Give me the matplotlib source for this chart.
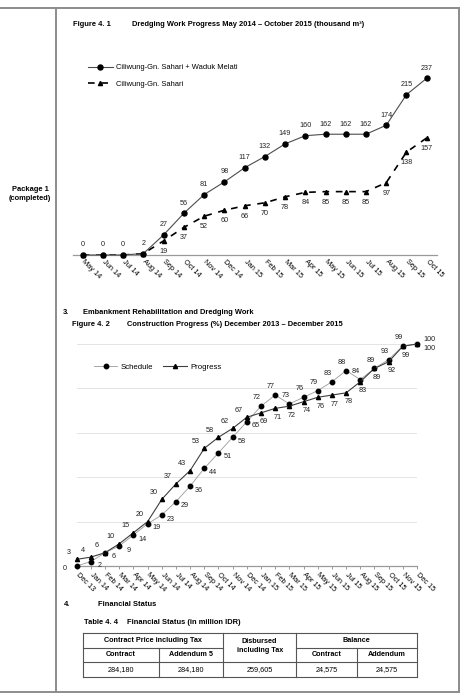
import matplotlib.pyplot as plt
from matplotlib.lines import Line2D

plt.rcParams['font.family'] = ['Liberation Sans', 'DejaVu Sans']

# Figure 4.1 data (thousand m3)
months_41 = ['May 14', 'Jun 14', 'Jul 14', 'Aug 14', 'Sep 14', 'Oct 14', 'Nov 14', 'Dec 14',
             'Jan 15', 'Feb 15', 'Mar 15', 'Apr 15', 'May 15', 'Jun 15', 'Jul 15', 'Aug 15',
             'Sep 15', 'Oct 15']
total_41 = [0, 0, 0, 2, 27, 56, 81, 98, 117, 132, 149, 160, 162, 162, 162, 174, 215, 237]
sahari_41 = [0, 0, 0, 2, 19, 37, 52, 60, 66, 70, 78, 84, 85, 85, 85, 97, 138, 157]

# Figure 4.2 data (%)
months_42 = ['Dec 13', 'Jan 14', 'Feb 14', 'Mar 14', 'Apr 14', 'May 14', 'Jun 14', 'Jul 14',
             'Aug 14', 'Sep 14', 'Oct 14', 'Nov 14', 'Dec 14', 'Jan 15', 'Feb 15', 'Mar 15',
             'Apr 15', 'May 15', 'Jun 15', 'Jul 15', 'Aug 15', 'Sep 15', 'Oct 15', 'Nov 15',
             'Dec 15']
schedule_42 = [0, 2, 6, 9, 14, 19, 23, 29, 36, 44, 51, 58, 65, 72, 77, 73, 76, 79, 83, 88,
               84, 89, 93, 99, 100]
progress_42 = [3, 4, 6, 10, 15, 20, 30, 37, 43, 53, 58, 62, 67, 69, 71, 72, 74, 76, 77, 78,
               83, 89, 92, 99, 100]

# Table 4.4
fin_top = ['Contract Price including Tax', 'Disbursed\nincluding Tax', 'Balance']
fin_sub = ['Contract', 'Addendum 5', None, 'Contract', 'Addendum']
fin_values = ['284,180', '284,180', '259,605', '24,575', '24,575']

W, H = 462, 700
fig = plt.figure(figsize=(W / 100, H / 100), dpi=100)

FS_HEAD = 5.4   # headings
FS_TAB = 5.2    # table
FS_LAB = 5.2    # data labels
FS_TICK = 5.3


def fx(px):
    return px / W


def fy(py):
    return 1 - py / H


def fline(x0, y0, x1, y1, color='#8c8c8c', lw=1.4):
    fig.add_artist(Line2D([fx(x0), fx(x1)], [fy(y0), fy(y1)], color=color, lw=lw))


def ftext(x, y, s, **kw):
    kw.setdefault('fontsize', FS_HEAD)
    kw.setdefault('va', 'center')
    fig.text(fx(x), fy(y), s, **kw)


# page frame
fline(0, 7.5, 459, 7.5)
fline(0, 691.7, 459, 691.7)
fline(459, 7.5, 459, 691.7)
fline(55.7, 7.5, 55.7, 691.7)
ftext(30, 194, 'Package 1\n(completed)', ha='center', fontweight='bold', linespacing=1.25)

# headings
ftext(72.7, 25, 'Figure 4. 1', fontweight='bold')
ftext(131.7, 25, 'Dredging Work Progress May 2014 \u2013 October 2015 (thousand m\u00b3)', fontweight='bold')
ftext(63, 312, '3.', fontweight='bold')
ftext(83, 312, 'Embankment Rehabilitation and Dredging Work', fontweight='bold')
ftext(72, 324.5, 'Figure 4. 2', fontweight='bold')
ftext(127, 324.5, 'Construction Progress (%) December 2013 \u2013 December 2015', fontweight='bold')
ftext(64, 604, '4.', fontweight='bold')
ftext(98, 604, 'Financial Status', fontweight='bold')
ftext(84, 622.5, 'Table 4. 4', fontweight='bold')
ftext(127, 622.5, 'Financial Status (in million IDR)', fontweight='bold')

# ---- Figure 4.1 ----
ax1 = fig.add_axes([fx(72.6), fy(255), fx(436.8) - fx(72.6), fy(68.6) - fy(255)])
x1 = list(range(len(months_41)))
l_tot, = ax1.plot(x1, total_41, color='#4d4d4d', lw=0.8, marker='o', ms=3.6,
                  mfc='black', mec='black', clip_on=False, zorder=3,
                  label='Ciliwung-Gn. Sahari + Waduk Melati')
l_sah, = ax1.plot(x1, sahari_41, color='black', lw=1.2, ls=(0, (4, 4)), marker='^', ms=3,
                  mfc='black', mec='black', clip_on=False, zorder=2,
                  label='Ciliwung-Gn. Sahari')
for i, v in enumerate(total_41):
    ax1.annotate(str(v), (i, v), xytext=(0, 7.2), textcoords='offset points',
                 ha='center', va='center', fontsize=FS_LAB, color='#222222')
for i, v in enumerate(sahari_41):
    if i < 4:
        continue
    ax1.annotate(str(v), (i, v), xytext=(0, -7.5), textcoords='offset points',
                 ha='center', va='center', fontsize=FS_LAB, color='#222222')
ax1.set_xlim(-0.5, len(months_41) - 0.5)
ax1.set_ylim(0, 250)
ax1.set_xticks(x1)
ax1.set_xticklabels(months_41, rotation=-45, ha='left', va='center', rotation_mode='anchor',
                    fontsize=FS_TICK)
ax1.tick_params(axis='x', length=0, pad=4)
ax1.set_yticks([])
for s in ['top', 'right', 'left']:
    ax1.spines[s].set_visible(False)
ax1.spines['bottom'].set_color('#9a9a9a')
ax1.spines['bottom'].set_linewidth(0.9)
ax1.patch.set_alpha(0)
ax1.legend(handles=[l_tot, l_sah], loc='upper left', bbox_to_anchor=(fx(88), fy(64)),
           bbox_transform=fig.transFigure, frameon=False, fontsize=5.4, borderpad=0,
           borderaxespad=0, handlelength=3.3, handletextpad=0.4, labelspacing=1.25)

# ---- Figure 4.2 ----
ax2 = fig.add_axes([fx(76.7), fy(566), fx(417) - fx(76.7), fy(344) - fy(566)])
x2 = list(range(len(months_42)))
l_sch, = ax2.plot(x2, schedule_42, color='#9a9a9a', lw=0.6, marker='o', ms=3.2,
                  mfc='black', mec='black', clip_on=False, zorder=3, label='Schedule')
l_prg, = ax2.plot(x2, progress_42, color='#3f3f3f', lw=0.8, marker='^', ms=3,
                  mfc='black', mec='black', clip_on=False, zorder=3, label='Progress')
n2 = len(months_42)
for i in range(n2):
    sched_top = i >= 13
    upper, lower = (schedule_42[i], progress_42[i]) if sched_top else (progress_42[i], schedule_42[i])
    if i == n2 - 1:
        up_off, lo_off = (9, 3.5), (9, -3.5)
    elif sched_top:
        up_off, lo_off = (-3, 6), (2, -6.5)
    else:
        up_off, lo_off = (-6, 5), (6.5, -3)
    if i == 0:
        lo_off = (-8.5, -2)
    ax2.annotate(str(upper), (i, upper), xytext=up_off, textcoords='offset points',
                 ha='center', va='center', fontsize=FS_LAB, color='#222222')
    ax2.annotate(str(lower), (i, lower), xytext=lo_off, textcoords='offset points',
                 ha='center', va='center', fontsize=FS_LAB, color='#222222')
ax2.set_xlim(0, n2 - 1)
ax2.set_ylim(0, 100)
ax2.set_yticks([20, 40, 60, 80, 100])
ax2.yaxis.grid(True, color='#e4e4e4', lw=0.7)
ax2.set_axisbelow(True)
ax2.tick_params(axis='y', length=0, labelleft=False)
ax2.set_xticks(x2)
ax2.set_xticklabels(months_42, rotation=-45, ha='left', va='center', rotation_mode='anchor',
                    fontsize=FS_TICK)
ax2.tick_params(axis='x', length=2.5, width=0.7, color='#9a9a9a', pad=3)
for s in ['top', 'right', 'left']:
    ax2.spines[s].set_visible(False)
ax2.spines['bottom'].set_color('#9a9a9a')
ax2.spines['bottom'].set_linewidth(0.9)
ax2.patch.set_alpha(0)
ax2.legend(handles=[l_sch, l_prg], loc='center left', bbox_to_anchor=(fx(94), fy(367)),
           bbox_transform=fig.transFigure, frameon=False, fontsize=5.6, ncol=2,
           borderpad=0, borderaxespad=0, handlelength=3.0, handletextpad=0.45,
           columnspacing=1.3)

# ---- Table 4.4 ----
cols = [83.3, 159, 223.3, 296, 356.7, 416.7]
rows = [632.7, 648.3, 661.7, 677.3]
tc = '#555555'
fline(cols[0], rows[0], cols[-1], rows[0], tc, 0.8)
fline(cols[0], rows[3], cols[-1], rows[3], tc, 0.8)
fline(cols[0], rows[2], cols[-1], rows[2], tc, 0.8)
fline(cols[0], rows[1], cols[2], rows[1], tc, 0.8)
fline(cols[3], rows[1], cols[5], rows[1], tc, 0.8)
for c in [cols[0], cols[2], cols[3], cols[5]]:
    fline(c, rows[0], c, rows[3], tc, 0.8)
for c in [cols[1], cols[4]]:
    fline(c, rows[1], c, rows[3], tc, 0.8)

ftext((cols[0] + cols[2]) / 2, 640.5, fin_top[0], ha='center', fontweight='bold', fontsize=FS_TAB)
ftext((cols[2] + cols[3]) / 2, 646, fin_top[1], ha='center', fontweight='bold', fontsize=FS_TAB,
      linespacing=1.3)
ftext((cols[3] + cols[5]) / 2, 640.5, fin_top[2], ha='center', fontweight='bold', fontsize=FS_TAB)
for j, s in enumerate(fin_sub):
    if s:
        ftext((cols[j] + cols[j + 1]) / 2, 655, s, ha='center', fontweight='bold', fontsize=FS_TAB)
for j, s in enumerate(fin_values):
    ftext((cols[j] + cols[j + 1]) / 2, 669.5, s, ha='center', fontsize=FS_TAB)

fig.savefig('out.png', dpi=100)
